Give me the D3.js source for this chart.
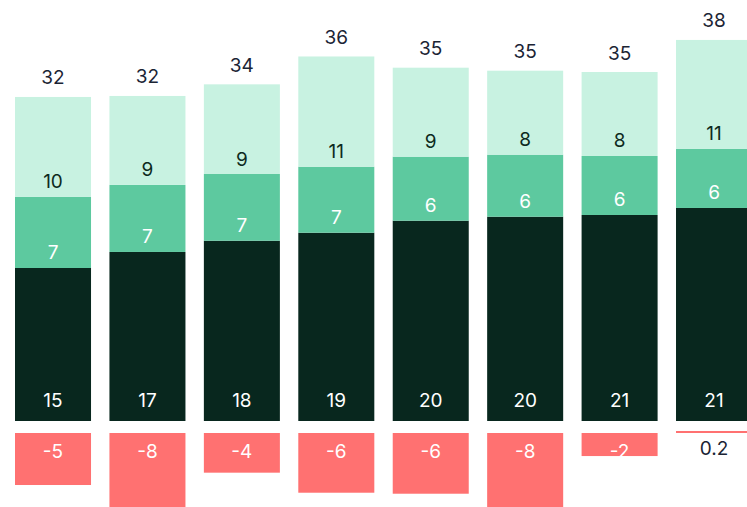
<!DOCTYPE html>
<html>
<head>
<meta charset="utf-8">
<script src="https://cdn.jsdelivr.net/npm/d3@7"></script>
<style>
  html, body { margin: 0; padding: 0; background: #fff; }
  svg { display: block; }
  text { font-family: Inter, "Noto Sans", sans-serif; font-size: 19px; }
</style>
</head>
<body>
<div id="chart"></div>
<script>
var periods = ["P1", "P2", "P3", "P4", "P5", "P6", "P7", "P8"];
var baseValues = [15.27, 16.87, 17.99, 18.79, 19.99, 20.39, 20.56, 21.26];
var midValues = [7.09, 6.69, 6.66, 6.59, 6.39, 6.19, 5.89, 5.89];
var topValues = [9.98, 8.88, 8.95, 11.0, 8.88, 8.38, 8.38, 10.88];
var changeValues = [-5.19, -7.9, -3.96, -5.96, -6.06, -7.9, -2.3, 0.2];

var width = 747, height = 507;
var colors = {base: "#08271e", mid: "#5dc99f", top: "#c8f2e1", neg: "#ff7171"};

var data = periods.map(function(p, i) {
    return {period: p, base: baseValues[i], mid: midValues[i], top: topValues[i], change: changeValues[i]};
});

var svg = d3.select("#chart").append("svg")
    .attr("width", width).attr("height", height);

var x = d3.scaleBand().domain(periods)
    .range([5.8, 5.8 + 8 * 94.43])
    .paddingInner(0.195).paddingOuter(0.0975);

var y = d3.scaleLinear().domain([0, 40]).range([421, 421 - 400.8]);
var yNeg = d3.scaleLinear().domain([0, -10]).range([433, 433 + 100.2]);

var stack = d3.stack().keys(["base", "mid", "top"]);
var series = stack(data);

var layers = svg.selectAll("g.layer").data(series).enter()
    .append("g").attr("class", "layer")
    .attr("fill", function(d) { return colors[d.key]; });

layers.selectAll("rect").data(function(d) { return d; }).enter()
    .append("rect")
    .attr("x", function(d) { return x(d.data.period); })
    .attr("width", x.bandwidth())
    .attr("y", function(d) { return y(d[1]); })
    .attr("height", function(d) { return y(d[0]) - y(d[1]); });

// segment labels
var labelColor = {base: "#ffffff", mid: "#ffffff", top: "#0d2a20"};
series.forEach(function(s) {
    svg.append("g").selectAll("text").data(s).enter()
        .append("text")
        .attr("x", function(d) { return x(d.data.period) + x.bandwidth() / 2; })
        .attr("y", function(d) { return s.key === "base" ? y(0) - 21 : y(d[0]) - 15; })
        .attr("text-anchor", "middle")
        .attr("dominant-baseline", "central")
        .attr("fill", labelColor[s.key])
        .text(function(d) { return Math.round(d.data[s.key]); });
});

// totals
svg.append("g").selectAll("text").data(data).enter()
    .append("text")
    .attr("x", function(d) { return x(d.period) + x.bandwidth() / 2; })
    .attr("y", function(d) { return y(d.base + d.mid + d.top) - 19; })
    .attr("text-anchor", "middle")
    .attr("dominant-baseline", "central")
    .attr("fill", "#1b2434")
    .text(function(d) { return Math.round(d.base + d.mid + d.top); });

// change bars
svg.append("g").selectAll("rect").data(data).enter()
    .append("rect")
    .attr("fill", colors.neg)
    .attr("x", function(d) { return x(d.period); })
    .attr("width", x.bandwidth())
    .attr("y", function(d) { return Math.min(yNeg(0), yNeg(d.change)); })
    .attr("height", function(d) { return Math.abs(yNeg(d.change) - yNeg(0)); });

svg.append("g").selectAll("text").data(data).enter()
    .append("text")
    .attr("x", function(d) { return x(d.period) + x.bandwidth() / 2; })
    .attr("y", function(d) { return d.change < 0 ? yNeg(0) + 18 : yNeg(0) + 15; })
    .attr("text-anchor", "middle")
    .attr("dominant-baseline", "central")
    .attr("fill", function(d) { return d.change < 0 ? "#ffffff" : "#1b2434"; })
    .text(function(d) { return Math.abs(d.change) < 1 ? d3.format(".1f")(d.change) : Math.round(d.change); });
</script>
</body>
</html>
